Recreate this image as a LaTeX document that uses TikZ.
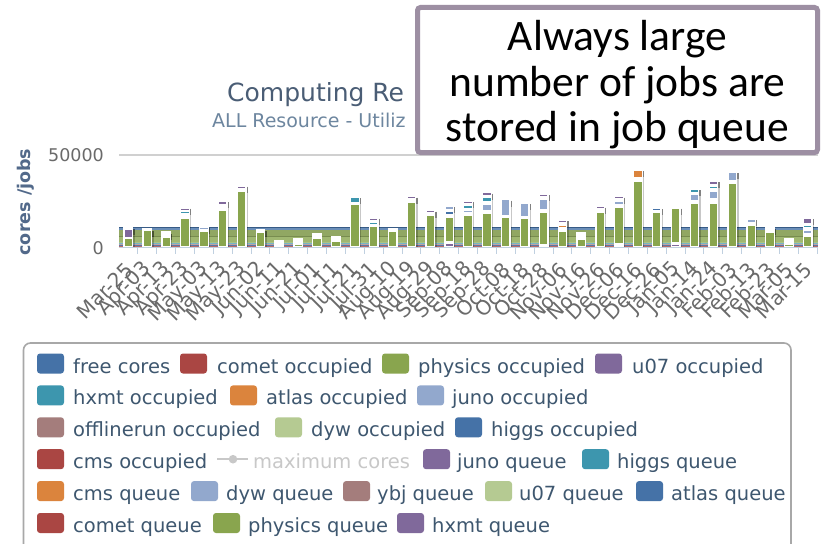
\documentclass[tikz,border=0pt]{standalone}
\usepackage{fontspec}
\setmainfont{DejaVu Sans}
\newfontfamily\boxfont{Carlito}
\definecolor{hcblue}{HTML}{4572A7}
\definecolor{hcred}{HTML}{AA4643}
\definecolor{hcgreen}{HTML}{89A54E}
\definecolor{hcpurple}{HTML}{80699B}
\definecolor{hcteal}{HTML}{3D96AE}
\definecolor{hcorange}{HTML}{DB843D}
\definecolor{hclblue}{HTML}{92A8CD}
\definecolor{hcbrown}{HTML}{A47D7C}
\definecolor{hclgreen}{HTML}{B5CA92}
\definecolor{legtext}{HTML}{3E576F}
\definecolor{titlec}{HTML}{4A5D75}
\definecolor{subc}{HTML}{6D869F}
\definecolor{ytitc}{HTML}{52698A}
\definecolor{labc}{HTML}{6A6A6A}
\definecolor{axisc}{HTML}{C0D0E0}
\definecolor{gridc}{HTML}{D0D0D0}
\definecolor{boxc}{HTML}{9D8FA3}
\definecolor{legborder}{HTML}{A8A8A8}
\definecolor{maxc}{HTML}{C8C8C8}
\newcommand\cseg[4]{%
  \pgfmathsetmacro\cxa{119+18.87*(#1+0.5)-4.3}%
  \pgfmathsetmacro\cxb{119+18.87*(#1+0.5)+4.3}%
  \path[fill=#4, draw=white, line width=1.3pt] (\cxa,#2) rectangle (\cxb,#3);}
\newcommand\cshad[2]{%
  \pgfmathsetmacro\cxs{119+18.87*(#1+0.5)+5.6}%
  \draw[black, opacity=0.22, line width=1.3pt] (\cxs,#2+2) -- (\cxs,247);
  \draw[black, opacity=0.35, line width=1.3pt] (\cxs,#2+2) -- (\cxs,#2+8);}
\begin{document}
\begin{tikzpicture}[x=1pt,y=-1pt,
  xlab/.style={rotate=45, anchor=east, inner sep=0pt, text=labc, font=\fontsize{20}{24}\selectfont},
  ylab/.style={anchor=east, inner sep=0pt, text=labc, font=\fontsize{17.5}{21}\selectfont},
  legtxt/.style={anchor=base west, inner sep=0pt, text=legtext, font=\fontsize{19.5}{23}\selectfont},
  swatch/.style={rounded corners=3pt},
  boxtxt/.style={anchor=base, inner sep=0pt, font=\boxfont\fontsize{43.5}{45}\selectfont},
  callout/.style={draw=boxc, line width=5pt, rounded corners=3pt, fill=white, minimum width=400pt, minimum height=145pt, inner sep=0pt}]
\useasboundingbox (0,0) rectangle (821,543);
\clip (0,0) rectangle (821,543);
\fill[white] (0,0) rectangle (821,543);

% titles
\node[anchor=base west, inner sep=0pt, text=titlec, font=\fontsize{25}{30}\selectfont] (title) at (227,101) {Computing Re};
\node[anchor=base west, inner sep=0pt, text=subc, font=\fontsize{19}{23}\selectfont] (subtitle) at (212,127.5) {ALL Resource - Utiliz};

% grid line and y labels
\draw[gridc, line width=1.2pt] (119,155) -- (818,155);
\node[ylab] (y50k) at (104,155) {50000};
\node[ylab] (y0) at (104,248) {0};
\node[rotate=90, inner sep=0pt, text=ytitc, font=\bfseries\fontsize{17.5}{21}\selectfont] (ytitle) at (26,202) {cores /jobs};

% stacked area background
\fill[hcblue, opacity=0.8] (119,227.5) rectangle (818,230);
\fill[hcgreen!92!black, opacity=0.85] (119,230) rectangle (818,236);
\fill[hcgreen, opacity=0.8] (119,236) rectangle (818,241.5);
\fill[hclgreen!80!hcgreen] (119,241.5) rectangle (818,242.6);
\fill[hcteal, opacity=0.7] (119,242.6) rectangle (818,243.6);
\fill[hcbrown, opacity=0.7] (119,243.6) rectangle (818,244.5);
\fill[hcpurple, opacity=0.7] (119,244.5) rectangle (818,245.4);
\fill[hcblue, opacity=0.8] (119,245.4) rectangle (818,246.3);
\fill[hcred, opacity=0.8] (119,246.3) rectangle (818,247);
\draw[hcblue!80!black, line width=0.8pt] (119,227.8) -- (818,227.8);
\draw[hcgreen!60!black, line width=0.6pt, opacity=0.5] (119,236) -- (818,236);

% columns
\cshad{0}{227}\cseg{0}{227}{247}{white}\cseg{0}{229}{237.5}{hcpurple}\cseg{0}{238.5}{247}{hcgreen}
\cshad{1}{228.5}\cseg{1}{228.5}{247}{white}\cseg{1}{230.5}{247}{hcgreen}
\cshad{2}{232}\cseg{2}{232}{247}{white}\cseg{2}{237}{247}{hcgreen}
\cshad{3}{206.5}\cseg{3}{206.5}{247}{white}\cseg{3}{208}{210.2}{hcpurple}\cseg{3}{211.6}{214}{hcteal}\cseg{3}{218}{247}{hcgreen}
\cshad{4}{225.7}\cseg{4}{225.7}{247}{white}\cseg{4}{227.3}{230}{hclblue}\cseg{4}{231.7}{247}{hcgreen}
\cshad{5}{200}\cseg{5}{200}{247}{white}\cseg{5}{201.7}{204.5}{hcpurple}\cseg{5}{210}{247}{hcgreen}
\cshad{6}{184.5}\cseg{6}{184.5}{247}{white}\cseg{6}{186}{188.3}{hcpurple}\cseg{6}{191}{247}{hcgreen}
\cshad{7}{229.3}\cseg{7}{229.3}{247}{white}\cseg{7}{232.7}{247}{hcgreen}
\cseg{8}{240.5}{247}{white}
\cseg{9}{239}{247}{white}\cseg{9}{244}{247}{hcgreen}
\cseg{10}{234}{247}{white}\cseg{10}{238}{247}{hcgreen}
\cseg{11}{236.5}{247}{white}\cseg{11}{241}{247}{hcgreen}
\cshad{12}{196}\cseg{12}{196}{247}{white}\cseg{12}{197.5}{203}{hcteal}\cseg{12}{204.5}{247}{hcgreen}
\cshad{13}{216.5}\cseg{13}{216.5}{247}{white}\cseg{13}{218}{220.5}{hcpurple}\cseg{13}{222}{224.5}{hcteal}\cseg{13}{226.5}{247}{hcgreen}
\cseg{14}{229}{247}{white}\cseg{14}{231}{247}{hcgreen}
\cshad{15}{195.5}\cseg{15}{195.5}{247}{white}\cseg{15}{196.8}{199}{hcpurple}\cseg{15}{202}{247}{hcgreen}
\cshad{16}{209.5}\cseg{16}{209.5}{247}{white}\cseg{16}{210.7}{212.7}{hcpurple}\cseg{16}{215}{247}{hcgreen}
\cshad{17}{205}\cseg{17}{205}{247}{white}\cseg{17}{206.5}{209.5}{hclblue}\cseg{17}{211}{215}{hcblue}\cseg{17}{217}{242}{hcgreen}\cseg{17}{243}{246.5}{hcpurple}
\cshad{18}{200}\cseg{18}{200}{247}{white}\cseg{18}{201.3}{204}{hcpurple}\cseg{18}{205.5}{208.5}{hcteal}\cseg{18}{210.5}{213}{hclblue}\cseg{18}{215}{247}{hcgreen}
\cshad{19}{191.5}\cseg{19}{191.5}{247}{white}\cseg{19}{192.8}{195.5}{hcpurple}\cseg{19}{197}{202}{hcteal}\cseg{19}{204.5}{211}{hclblue}\cseg{19}{213}{247}{hcgreen}
\cshad{20}{198.5}\cseg{20}{198.5}{247}{white}\cseg{20}{199.8}{215.5}{hclblue}\cseg{20}{217}{247}{hcgreen}
\cshad{21}{202}\cseg{21}{202}{247}{white}\cseg{21}{203.3}{216.5}{hclblue}\cseg{21}{218}{247}{hcgreen}
\cshad{22}{193}\cseg{22}{193}{247}{white}\cseg{22}{194.3}{196.5}{hcpurple}\cseg{22}{199.5}{210}{hclblue}\cseg{22}{212}{244.5}{hcgreen}
\cshad{23}{219.3}\cseg{23}{219.3}{247}{white}\cseg{23}{220.5}{223}{hcpurple}\cseg{23}{225.3}{227.5}{hcorange}\cseg{23}{231.5}{247}{hcgreen}
\cseg{24}{233}{247}{white}\cseg{24}{239}{247}{hcgreen}
\cshad{25}{205.5}\cseg{25}{205.5}{247}{white}\cseg{25}{206.8}{209}{hcpurple}\cseg{25}{212.5}{247}{hcgreen}
\cshad{26}{195.5}\cseg{26}{195.5}{247}{white}\cseg{26}{196.8}{199}{hcpurple}\cseg{26}{201.5}{205}{hclblue}\cseg{26}{207}{244}{hcgreen}
\cshad{27}{169.3}\cseg{27}{169.3}{247}{white}\cseg{27}{170.6}{178}{hcorange}\cseg{27}{181.5}{247}{hcgreen}
\cshad{28}{207.3}\cseg{28}{207.3}{247}{white}\cseg{28}{208.6}{210.3}{hcblue}\cseg{28}{212}{247}{hcgreen}
\cshad{29}{206.5}\cseg{29}{206.5}{247}{white}\cseg{29}{208}{243}{hcgreen}\cseg{29}{244.5}{246.7}{hcpurple}
\cshad{30}{188.3}\cseg{30}{188.3}{247}{white}\cseg{30}{189.6}{192.5}{hcteal}\cseg{30}{194.5}{201}{hclblue}\cseg{30}{203}{247}{hcgreen}
\cshad{31}{180.3}\cseg{31}{180.3}{247}{white}\cseg{31}{181.6}{184.5}{hcpurple}\cseg{31}{186.5}{189}{hcteal}\cseg{31}{191.5}{199}{hclblue}\cseg{31}{203}{247}{hcgreen}
\cshad{32}{170.8}\cseg{32}{170.8}{247}{white}\cseg{32}{172.1}{181}{hclblue}\cseg{32}{183}{247}{hcgreen}
\cshad{33}{218.3}\cseg{33}{218.3}{247}{white}\cseg{33}{219.6}{222.5}{hclblue}\cseg{33}{225}{247}{hcgreen}
\cshad{34}{227}\cseg{34}{227}{247}{white}\cseg{34}{232}{247}{hcgreen}
\cseg{35}{238.5}{247}{white}\cseg{35}{241.3}{243}{hcteal}\cseg{35}{244.5}{247}{hcgreen}
\cshad{36}{217}\cseg{36}{217}{247}{white}\cseg{36}{218.3}{224}{hcpurple}\cseg{36}{225.5}{227.5}{hcteal}\cseg{36}{230}{234}{hclblue}\cseg{36}{236.5}{247}{hcgreen}

% x axis
\draw[axisc, line width=1.3pt] (119,247.8) -- (818,247.8);
\foreach \k in {1,...,37} \draw[axisc, line width=1pt] ({119+18.87*\k},247.8) -- ++(0,6);

% x labels
\foreach \lab [count=\i from 0] in {Mar-25,Apr-03,Apr-13,Apr-23,May-03,May-13,May-23,Jun-02,Jun-11,Jun-21,Jul-01,Jul-11,Jul-21,Jul-31,Aug-10,Aug-19,Aug-29,Sep-08,Sep-18,Sep-28,Oct-08,Oct-18,Oct-28,Nov-06,Nov-16,Nov-26,Dec-06,Dec-16,Dec-26,Jan-05,Jan-14,Jan-24,Feb-03,Feb-13,Feb-23,Mar-05,Mar-15}
  \node[xlab] (xl\i) at ({119+18.87*(\i+0.5)+1},266) {\lab};

% callout box
\node[callout] (callout) at (617.5,80) {};
\node[boxtxt] (bt1) at (617.5,51) {Always large};
\node[boxtxt] (bt2) at (617.5,96) {number of jobs are};
\node[boxtxt] (bt3) at (617.5,141) {stored in job queue};

% legend
\draw[legborder, line width=1.6pt, rounded corners=7pt] (23.5,343) rectangle (791,575);
\foreach \sx/\tx/\r/\c/\t [count=\n] in {
  37/73/0/hcblue/free cores, 180/217/0/hcred/comet occupied, 382/418/0/hcgreen/physics occupied, 595/632/0/hcpurple/u07 occupied,
  37/73/1/hcteal/hxmt occupied, 230/266/1/hcorange/atlas occupied, 417/452/1/hclblue/juno occupied,
  37/73/2/hcbrown/offlinerun occupied, 275/311/2/hclgreen/dyw occupied, 455/491/2/hcblue/higgs occupied,
  37/73/3/hcred/cms occupied, 423/457/3/hcpurple/juno queue, 582/617/3/hcteal/higgs queue,
  37/73/4/hcorange/cms queue, 191/226/4/hclblue/dyw queue, 343/377/4/hcbrown/ybj queue, 485/519/4/hclgreen/u07 queue, 636/671/4/hcblue/atlas queue,
  37/73/5/hcred/comet queue, 213/248/5/hcgreen/physics queue, 397/432/5/hcpurple/hxmt queue}
{
  \pgfmathsetmacro\yc{363.5+31.9*\r}
  \fill[\c, swatch] (\sx,\yc-10) rectangle (\sx+27,\yc+10);
  \node[legtxt] (lg\n) at (\tx,\yc+9.5) {\t};
}
% maximum cores (hidden series)
\draw[maxc, line width=2pt] (217,459.2) -- (248,459.2);
\fill[maxc] (233,459.2) circle (4.3pt);
\node[legtxt, text=maxc] (lgmax) at (253,468.7) {maximum cores};
\end{tikzpicture}
\end{document}
